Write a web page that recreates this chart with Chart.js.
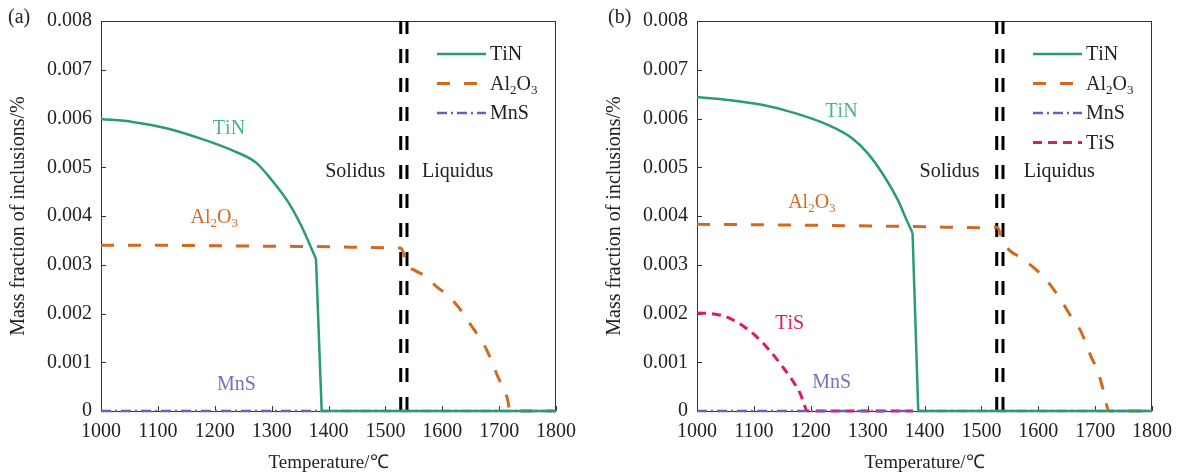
<!DOCTYPE html>
<html>
<head>
<meta charset="utf-8">
<script src="https://cdn.jsdelivr.net/npm/chart.js@4.4.0/dist/chart.umd.min.js"></script>
<style>
  body { margin: 0; background: #fff; width: 1183px; height: 475px; position: relative; overflow: hidden; }
  .wrap { position: absolute; top: 0; width: 591px; height: 475px; }
</style>
</head>
<body>
<div class="wrap" style="left:0"><canvas id="ca" width="591" height="475"></canvas></div>
<div class="wrap" style="left:596px"><canvas id="cb" width="591" height="475"></canvas></div>
<script>
// --- data (temperature in ℃, mass fraction in %) ---
const xMin = 1000, xMax = 1800, xStep = 100;
const yMin = 0, yMax = 0.008, yStep = 0.001;
const solidusT = 1527, liquidusT = 1538;

// panel (a)
const tinTA = [1000, 1056, 1115, 1172, 1230, 1272, 1300, 1330, 1353, 1369, 1378];
const tinVA = [0.00599, 0.00593, 0.0058, 0.0056, 0.00535, 0.0051, 0.00474, 0.00427, 0.00378, 0.00336, 0.00312];
const tinDropTA = [1378, 1388, 1800];
const tinDropVA = [0.00312, 0, 0];
const alTA = [1000, 1100, 1200, 1300, 1400, 1500, 1528, 1537, 1551, 1572, 1591, 1609, 1630, 1644, 1660, 1674, 1686, 1695, 1706, 1715, 1719, 1800];
const alVA = [0.0034, 0.0034, 0.00339, 0.00338, 0.00337, 0.00335, 0.00334, 0.0030, 0.00289, 0.00275, 0.00254, 0.00238, 0.00211, 0.00187, 0.0016, 0.00135, 0.00105, 0.00078, 0.00049, 0.00023, 0, 0];
const mnsTA = [1000, 1800];
const mnsVA = [0, 0];

// panel (b)
const tinTB = [1000, 1054, 1114, 1172, 1230, 1272, 1300, 1330, 1353, 1370, 1379];
const tinVB = [0.00644, 0.00638, 0.00628, 0.00611, 0.00587, 0.0056, 0.00529, 0.0048, 0.00433, 0.00388, 0.00365];
const tinDropTB = [1379, 1389, 1800];
const tinDropVB = [0.00365, 0, 0];
const alTB = [1000, 1200, 1400, 1500, 1528, 1537, 1549, 1570, 1593, 1611, 1628, 1642, 1658, 1672, 1684, 1693, 1704, 1712, 1725, 1800];
const alVB = [0.00383, 0.00381, 0.00378, 0.00376, 0.00377, 0.0035, 0.0033, 0.00314, 0.00293, 0.00273, 0.00248, 0.00224, 0.00193, 0.0017, 0.00139, 0.00111, 0.00084, 0.00053, 0, 0];
const mnsTB = [1000, 1800];
const mnsVB = [0, 0];
const tisTB = [1000, 1030, 1058, 1105, 1151, 1181, 1195, 1380];
const tisVB = [0.00201, 0.00199, 0.0019, 0.00152, 0.0009, 0.00037, 0, 0];

const C = { tin: "#2b9a77", al: "#d2691e", mns: "#6a5fb3", tis: "#d81b6a" };
const serif = "'Liberation Serif', 'Times New Roman', serif";

const pts = (xs, ys) => xs.map((x, i) => ({ x, y: ys[i] }));

function vline(t) {
  return {
    data: [{ x: t, y: yMin }, { x: t, y: yMax }],
    borderColor: "#000", borderWidth: 3, borderDash: [14, 15],
    pointRadius: 0, clip: false, tension: 0,
  };
}

// label === null -> no legend row (continuation piece of a curve)
function series(label, color, dash, width, xs, ys, smooth = true) {
  return {
    legendLabel: label,
    data: pts(xs, ys),
    borderColor: color, borderWidth: width, borderDash: dash,
    pointRadius: 0, clip: false,
    cubicInterpolationMode: smooth ? "monotone" : "default", tension: 0,
  };
}

// text with "_x" subscripts
function drawRich(ctx, text, x, y, size, color, align) {
  const runs = [];
  for (let i = 0; i < text.length; i++) {
    if (text[i] === "_") { runs.push({ t: text[i + 1], sub: true }); i++; }
    else runs.push({ t: text[i], sub: false });
  }
  const sub = Math.round(size * 0.66);
  let w = 0;
  runs.forEach(r => { ctx.font = `${r.sub ? sub : size}px ${serif}`; r.w = ctx.measureText(r.t).width; w += r.w; });
  let cx = align === "center" ? x - w / 2 : x;
  ctx.fillStyle = color;
  ctx.textAlign = "left";
  ctx.textBaseline = "middle";
  runs.forEach(r => {
    ctx.font = `${r.sub ? sub : size}px ${serif}`;
    ctx.fillText(r.t, cx, r.sub ? y + size * 0.3 : y);
    cx += r.w;
  });
}

const inclPlugin = {
  id: "incl",
  beforeDatasetsDraw(chart) {
    const { ctx, chartArea: a, scales: { x, y } } = chart;
    ctx.save();
    ctx.strokeStyle = "#333";
    ctx.lineWidth = 1;
    ctx.strokeRect(a.left + 0.5, a.top + 0.5, a.right - a.left - 1, a.bottom - a.top);
    ctx.beginPath();
    for (let t = xMin; t <= xMax; t += xStep) {
      const px = Math.round(x.getPixelForValue(t)) + 0.5;
      ctx.moveTo(px, a.bottom); ctx.lineTo(px, a.bottom - 5);
    }
    for (let i = 0; i <= 8; i++) {
      const py = Math.round(y.getPixelForValue(i * yStep)) + 0.5;
      ctx.moveTo(a.left, py); ctx.lineTo(a.left + 5, py);
    }
    ctx.stroke();
    ctx.restore();
  },
  afterDraw(chart, args, opts) {
    const { ctx, chartArea: a, scales: { x, y } } = chart;
    ctx.save();
    // panel tag
    drawRich(ctx, opts.tag, opts.tagX, 18, 20, "#222", "left");
    // curve notes
    opts.notes.forEach(n => drawRich(ctx, n.text, x.getPixelForValue(n.t), y.getPixelForValue(n.v), 20, n.color, "center"));
    // legend
    let row = 0;
    chart.data.datasets.forEach(ds => {
      if (!ds.legendLabel) return;
      const ly = a.top + 33 + row * 29.5;
      const lx = a.left + 336;
      ctx.beginPath();
      ctx.strokeStyle = ds.borderColor;
      ctx.lineWidth = ds.borderWidth;
      ctx.setLineDash(ds.borderDash || []);
      ctx.moveTo(lx, ly); ctx.lineTo(lx + 49, ly);
      ctx.stroke();
      ctx.setLineDash([]);
      drawRich(ctx, ds.legendLabel, lx + 53, ly + 1, 20, "#222", "left");
      row++;
    });
    ctx.restore();
  },
};

function makeChart(id, datasets, tag, tagX, notes) {
  return new Chart(document.getElementById(id), {
    type: "scatter",
    data: { datasets },
    plugins: [inclPlugin],
    options: {
      responsive: false,
      animation: false,
      showLine: true,
      layout: { padding: { top: 21, right: 35, left: 0, bottom: 0 } },
      plugins: { legend: { display: false }, tooltip: { enabled: false }, incl: { tag, tagX, notes } },
      scales: {
        x: {
          type: "linear", min: xMin, max: xMax,
          grid: { display: false, drawTicks: false }, border: { display: false },
          ticks: { stepSize: xStep, color: "#222", padding: 9, font: { family: serif, size: 20 }, callback: v => String(v) },
          title: { display: true, text: "Temperature/℃", color: "#222", padding: { top: 0, bottom: 1 }, font: { family: serif, size: 19 } },
          afterFit: s => { s.height = 64; },
        },
        y: {
          min: yMin, max: yMax,
          grid: { display: false, drawTicks: false }, border: { display: false },
          ticks: {
            stepSize: yStep, color: "#222", padding: 9, font: { family: serif, size: 20 },
            callback: v => (Math.abs(v) < 1e-9 ? "0" : v.toFixed(3)),
          },
          title: { display: true, text: "Mass fraction of inclusions/%", color: "#222", padding: { top: 7, bottom: 0 }, font: { family: serif, size: 20 } },
          afterFit: s => { s.width = 101; },
        },
      },
    },
  });
}

makeChart("ca", [
  series("TiN", C.tin, [], 2.5, tinTA, tinVA),
  series(null, C.tin, [], 2.5, tinDropTA, tinDropVA, false),
  series("Al_2O_3", C.al, [13, 14], 3, alTA, alVA),
  series("MnS", C.mns, [10, 4, 2, 4], 2.5, mnsTA, mnsVA),
  vline(solidusT), vline(liquidusT),
], "(a)", 8, [
  { text: "TiN", t: 1225, v: 0.0058, color: "#4db38a" },
  { text: "Al_2O_3", t: 1199, v: 0.00396, color: C.al },
  { text: "MnS", t: 1238, v: 0.00053, color: "#7a6fbf" },
  { text: "Solidus", t: 1447, v: 0.0049, color: "#222" },
  { text: "Liquidus", t: 1627, v: 0.0049, color: "#222" },
]);

makeChart("cb", [
  series("TiN", C.tin, [], 2.5, tinTB, tinVB),
  series(null, C.tin, [], 2.5, tinDropTB, tinDropVB, false),
  series("Al_2O_3", C.al, [13, 14], 3, alTB, alVB),
  series("MnS", C.mns, [10, 4, 2, 4], 2.5, mnsTB, mnsVB),
  series("TiS", C.tis, [9, 6], 3, tisTB, tisVB),
  vline(solidusT), vline(liquidusT),
], "(b)", 12, [
  { text: "TiN", t: 1254, v: 0.00613, color: "#4db38a" },
  { text: "Al_2O_3", t: 1202, v: 0.00427, color: C.al },
  { text: "TiS", t: 1163, v: 0.0018, color: C.tis },
  { text: "MnS", t: 1237, v: 0.00057, color: "#7a6fbf" },
  { text: "Solidus", t: 1444, v: 0.0049, color: "#222" },
  { text: "Liquidus", t: 1637, v: 0.0049, color: "#222" },
]);
</script>
</body>
</html>
